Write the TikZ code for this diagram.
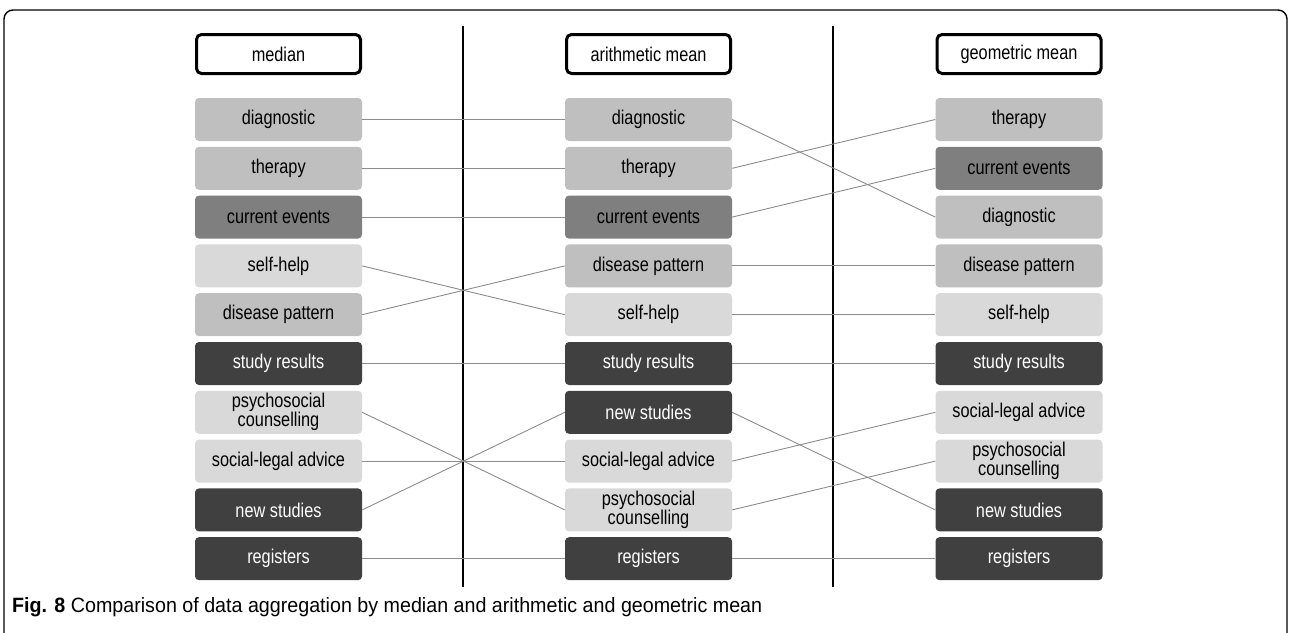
\documentclass[tikz,border=0pt]{standalone}
\usepackage{fontspec}
\setmainfont{Liberation Sans}
\usepackage{graphicx}
\newcommand{\st}[1]{\scalebox{1}[1.22]{#1}}
\begin{document}
\begin{tikzpicture}[x=1pt,y=-1pt,
  cell/.style={rounded corners=4pt,minimum width=167pt,minimum height=43pt,inner sep=0pt,align=center,font=\fontsize{16.3}{19}\selectfont},
  lt/.style={cell,fill=lightgray0},
  md/.style={cell,fill=midgray0},
  cu/.style={cell,fill=curgray0},
  dk/.style={cell,fill=darkgray0,text=white},
  head/.style={draw=black,line width=3pt,rounded corners=5pt,fill=white,minimum width=164pt,minimum height=39pt,inner sep=0pt,font=\fontsize{16.3}{18}\selectfont},
  conn/.style={draw=conngray,line width=0.9pt},
  sep/.style={draw=black,line width=2.6pt}]
\definecolor{lightgray0}{HTML}{D9D9D9}
\definecolor{midgray0}{HTML}{BFBFBF}
\definecolor{curgray0}{HTML}{7F7F7F}
\definecolor{darkgray0}{HTML}{404040}
\definecolor{conngray}{HTML}{8C8C8C}
\useasboundingbox (0,0) rectangle (1290,632);
\draw[line width=1.4pt,rounded corners=9pt] (4,660) -- (4,10) -- (1287,10) -- (1287,660);
% separators
\coordinate (s1t) at (463,26); \coordinate (s1b) at (463,587);
\coordinate (s2t) at (833,26); \coordinate (s2b) at (833,587);
\draw[sep] (s1t) -- (s1b);
\draw[sep] (s2t) -- (s2b);
% headers
\node[head] (hA) at (278.5,54) {\st{median}};
\node[head] (hB) at (648.5,54) {\st{arithmetic mean}};
\node[head] (hC) at (1019,54) {\st{geometric mean}};
% column A
\def\ry#1{119.5+(#1-1)*48.8}
\node[md] (a1) at (278.5,{\ry{1}}) {\st{diagnostic}};
\node[md] (a2) at (278.5,{\ry{2}}) {\st{therapy}};
\node[cu] (a3) at (278.5,{\ry{3}}) {\st{current events}};
\node[lt] (a4) at (278.5,{\ry{4}}) {\st{self-help}};
\node[md] (a5) at (278.5,{\ry{5}}) {\st{disease pattern}};
\node[dk] (a6) at (278.5,{\ry{6}}) {\st{study results}};
\node[lt] (a7) at (278.5,{\ry{7}}) {\st{psychosocial}\\\st{counselling}};
\node[lt] (a8) at (278.5,{\ry{8}}) {\st{social-legal advice}};
\node[dk] (a9) at (278.5,{\ry{9}}) {\st{new studies}};
\node[dk] (a10) at (278.5,{\ry{10}}) {\st{registers}};
% column B
\node[md] (b1) at (648.5,{\ry{1}}) {\st{diagnostic}};
\node[md] (b2) at (648.5,{\ry{2}}) {\st{therapy}};
\node[cu] (b3) at (648.5,{\ry{3}}) {\st{current events}};
\node[md] (b4) at (648.5,{\ry{4}}) {\st{disease pattern}};
\node[lt] (b5) at (648.5,{\ry{5}}) {\st{self-help}};
\node[dk] (b6) at (648.5,{\ry{6}}) {\st{study results}};
\node[dk] (b7) at (648.5,{\ry{7}}) {\st{new studies}};
\node[lt] (b8) at (648.5,{\ry{8}}) {\st{social-legal advice}};
\node[lt] (b9) at (648.5,{\ry{9}}) {\st{psychosocial}\\\st{counselling}};
\node[dk] (b10) at (648.5,{\ry{10}}) {\st{registers}};
% column C
\node[md] (c1) at (1019,{\ry{1}}) {\st{therapy}};
\node[cu] (c2) at (1019,{\ry{2}}) {\st{current events}};
\node[md] (c3) at (1019,{\ry{3}}) {\st{diagnostic}};
\node[md] (c4) at (1019,{\ry{4}}) {\st{disease pattern}};
\node[lt] (c5) at (1019,{\ry{5}}) {\st{self-help}};
\node[dk] (c6) at (1019,{\ry{6}}) {\st{study results}};
\node[lt] (c7) at (1019,{\ry{7}}) {\st{social-legal advice}};
\node[lt] (c8) at (1019,{\ry{8}}) {\st{psychosocial}\\\st{counselling}};
\node[dk] (c9) at (1019,{\ry{9}}) {\st{new studies}};
\node[dk] (c10) at (1019,{\ry{10}}) {\st{registers}};
% connectors A -> B
\foreach \s/\t in {1/1,2/2,3/3,4/5,5/4,6/6,7/9,8/8,9/7,10/10}
  \draw[conn] (a\s.east) -- (b\t.west);
% connectors B -> C
\foreach \s/\t in {1/3,2/1,3/2,4/4,5/5,6/6,7/9,8/7,9/8,10/10}
  \draw[conn] (b\s.east) -- (c\t.west);
% caption
\node[anchor=base west,inner sep=0pt] (cap) at (12,612)
  {\resizebox{750pt}{15pt}{\textbf{Fig. 8} Comparison of data aggregation by median and arithmetic and geometric mean}};
\end{tikzpicture}
\end{document}
